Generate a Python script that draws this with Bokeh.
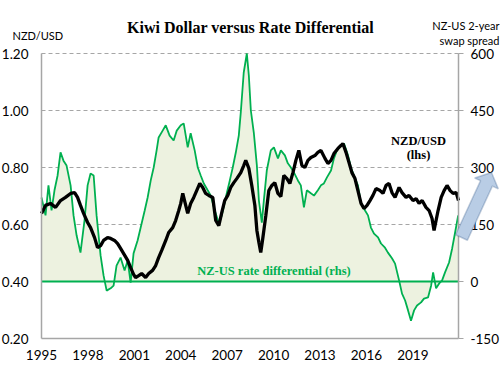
import math
from bokeh.plotting import figure
from bokeh.models import Range1d, LinearAxis, FixedTicker, Label, PolyAnnotation, NumeralTickFormatter
from bokeh.embed import file_html
from bokeh.resources import INLINE

# ---------------- data ----------------
green_years = [1995.00, 1995.26, 1995.45, 1995.65, 1995.84, 1996.04, 1996.23, 1996.42, 1996.62, 1996.88,
               1997.07, 1997.27, 1997.52, 1997.78, 1997.98, 1998.17, 1998.37, 1998.56, 1998.82, 1999.01,
               1999.21, 1999.47, 1999.66, 1999.85, 2000.11, 2000.37, 2000.57, 2000.76, 2000.95, 2001.21,
               2001.41, 2001.67, 2001.86, 2002.06, 2002.25, 2002.44, 2002.57, 2002.83, 2003.03, 2003.28,
               2003.54, 2003.74, 2004.00, 2004.19, 2004.45, 2004.64, 2004.90, 2005.10, 2005.29, 2005.49,
               2005.74, 2005.94, 2006.20, 2006.46, 2006.65, 2006.91, 2007.17, 2007.36, 2007.56, 2007.75,
               2007.88, 2008.07, 2008.27, 2008.40, 2008.53, 2008.72, 2008.92, 2009.05, 2009.24, 2009.37,
               2009.56, 2009.82, 2010.02, 2010.28, 2010.47, 2010.73, 2010.92, 2011.12, 2011.31, 2011.57,
               2011.76, 2011.96, 2012.15, 2012.41, 2012.61, 2012.86, 2013.06, 2013.25, 2013.45, 2013.71,
               2013.90, 2014.09, 2014.35, 2014.55, 2014.81, 2015.00, 2015.19, 2015.45, 2015.65, 2015.91,
               2016.10, 2016.29, 2016.49, 2016.75, 2016.94, 2017.20, 2017.39, 2017.65, 2017.85, 2018.11,
               2018.30, 2018.50, 2018.69, 2018.88, 2019.08, 2019.27, 2019.53, 2019.72, 2019.98, 2020.18,
               2020.31, 2020.50, 2020.70, 2020.89, 2021.08, 2021.34, 2021.54, 2021.73, 2021.93]
spread_bp = [221, 174, 253, 187, 240, 279, 340, 318, 305, 253,
             174, 121, 76, 161, 253, 284, 279, 174, 68, 16,
             -24, -18, -11, 42, 63, 29, 55, -3, 74, 108,
             142, 187, 221, 266, 300, 345, 379, 397, 411, 384,
             371, 397, 411, 416, 353, 390, 345, 300, 279, 258,
             240, 226, 187, 153, 174, 221, 266, 300, 340, 384,
             445, 550, 600, 542, 450, 392, 305, 213, 155, 213,
             292, 345, 353, 324, 345, 332, 311, 300, 287, 266,
             253, 195, 240, 232, 226, 240, 253, 258, 274, 292,
             324, 345, 358, 363, 332, 300, 279, 253, 205, 187,
             174, 142, 126, 116, 100, 89, 76, 61, 47, 3,
             -32, -50, -76, -103, -76, -63, -55, -45, -42, -11,
             24, -18, -5, 3, 24, 50, 87, 129, 174]

nzd_years = [1995.00, 1995.26, 1995.58, 1995.91, 1996.23, 1996.55, 1996.88, 1997.14, 1997.33, 1997.52,
             1997.72, 1997.98, 1998.17, 1998.43, 1998.62, 1998.82, 1999.01, 1999.27, 1999.47, 1999.72,
             1999.92, 2000.11, 2000.31, 2000.57, 2000.76, 2000.95, 2001.08, 2001.28, 2001.47, 2001.73,
             2001.93, 2002.18, 2002.38, 2002.57, 2002.77, 2003.03, 2003.22, 2003.48, 2003.67, 2003.87,
             2004.00, 2004.13, 2004.32, 2004.45, 2004.64, 2004.84, 2005.03, 2005.23, 2005.42, 2005.61,
             2005.81, 2006.07, 2006.26, 2006.46, 2006.65, 2006.84, 2007.04, 2007.23, 2007.43, 2007.62,
             2007.88, 2008.07, 2008.20, 2008.40, 2008.59, 2008.79, 2008.92, 2009.05, 2009.17, 2009.30,
             2009.50, 2009.69, 2009.89, 2010.08, 2010.28, 2010.47, 2010.66, 2010.86, 2011.05, 2011.25,
             2011.44, 2011.63, 2011.83, 2012.02, 2012.22, 2012.41, 2012.67, 2012.86, 2013.06, 2013.32,
             2013.51, 2013.71, 2013.90, 2014.16, 2014.35, 2014.48, 2014.68, 2014.87, 2015.06, 2015.26,
             2015.45, 2015.65, 2015.84, 2016.04, 2016.23, 2016.42, 2016.62, 2016.88, 2017.07, 2017.27,
             2017.46, 2017.65, 2017.85, 2018.11, 2018.30, 2018.56, 2018.75, 2019.01, 2019.21, 2019.40,
             2019.60, 2019.85, 2020.05, 2020.24, 2020.37, 2020.50, 2020.63, 2020.83, 2021.02, 2021.21,
             2021.41, 2021.60, 2021.80, 2021.95]
nzd_usd = [0.639, 0.667, 0.674, 0.660, 0.684, 0.695, 0.709, 0.712, 0.695, 0.667,
           0.639, 0.607, 0.589, 0.554, 0.519, 0.526, 0.544, 0.554, 0.551, 0.544,
           0.533, 0.516, 0.498, 0.474, 0.449, 0.425, 0.414, 0.421, 0.428, 0.414,
           0.428, 0.439, 0.456, 0.484, 0.509, 0.544, 0.572, 0.589, 0.614, 0.649,
           0.674, 0.709, 0.667, 0.639, 0.674, 0.695, 0.719, 0.744, 0.730, 0.709,
           0.702, 0.695, 0.614, 0.596, 0.642, 0.684, 0.702, 0.730, 0.747, 0.761,
           0.782, 0.807, 0.825, 0.797, 0.737, 0.667, 0.579, 0.537, 0.502, 0.551,
           0.632, 0.719, 0.737, 0.747, 0.709, 0.698, 0.772, 0.761, 0.744, 0.782,
           0.825, 0.860, 0.807, 0.800, 0.825, 0.835, 0.842, 0.853, 0.860, 0.832,
           0.814, 0.825, 0.849, 0.867, 0.877, 0.884, 0.853, 0.818, 0.782, 0.761,
           0.719, 0.674, 0.656, 0.667, 0.684, 0.702, 0.726, 0.719, 0.709, 0.737,
           0.744, 0.712, 0.695, 0.730, 0.712, 0.695, 0.702, 0.684, 0.691, 0.674,
           0.684, 0.660, 0.649, 0.621, 0.579, 0.614, 0.649, 0.695, 0.719, 0.737,
           0.719, 0.709, 0.712, 0.684]

year_ticks = [1995, 1998, 2001, 2004, 2007, 2010, 2013, 2016, 2019]
lhs_ticks = [0.2, 0.4, 0.6, 0.8, 1.0, 1.2]
rhs_ticks = [-150, 0, 150, 300, 450, 600]
grid_levels = [0.6, 0.8, 1.0, 1.2]

title_text = "Kiwi Dollar versus Rate Differential"

# ---------------- layout helpers ----------------
W, H = 500, 369
X0, X1 = 1995.0, 2021.95          # x-axis extent
Y0, Y1 = 0.2, 1.2                 # lhs extent
R0, R1 = -150.0, 600.0            # rhs extent
FL, FR, FT, FB = 41, 458, 53, 338  # axis box in canvas pixels


def fx(px):
    return X0 + (px - FL) * (X1 - X0) / (FR - FL)


def fy(py):
    return Y1 - (py - FT) * (Y1 - Y0) / (FB - FT)


def fr(py):
    return R1 - (py - FT) * (R1 - R0) / (FB - FT)


GREEN = "#00B050"
GRAY = "#A6A6A6"
TICK_FONT = "Lato"
SERIF = "Liberation Serif"

p = figure(width=W, height=H, x_range=Range1d(fx(0), fx(W)), y_range=Range1d(fy(H), fy(0)),
           output_backend="svg", toolbar_location=None, min_border=0,
           x_axis_type=None, y_axis_type=None)
p.extra_y_ranges = {"rhs": Range1d(fr(H), fr(0))}
p.outline_line_color = None
p.grid.visible = False

# dashed horizontal gridlines inside the axis box
p.segment(x0=X0, x1=X1, y0=grid_levels, y1=grid_levels, line_color=GRAY,
          line_dash="4 3", line_width=1.2)

# axes drawn at fixed locations
ly = LinearAxis(ticker=FixedTicker(ticks=lhs_ticks), formatter=NumeralTickFormatter(format="0.00"),
                fixed_location=X0, bounds=(Y0, Y1))
bx = LinearAxis(ticker=FixedTicker(ticks=year_ticks), formatter=NumeralTickFormatter(format="0"),
                fixed_location=Y0, bounds=(X0, X1))
ry = LinearAxis(y_range_name="rhs", ticker=FixedTicker(ticks=rhs_ticks),
                formatter=NumeralTickFormatter(format="0"), fixed_location=X1, bounds=(R0, R1))
for ax in (ly, bx, ry):
    ax.axis_line_color = GRAY
    ax.axis_line_width = 1.5
    ax.minor_tick_line_color = None
    ax.major_label_text_font = TICK_FONT
    ax.major_label_text_font_size = "13.5px"
    ax.major_label_text_color = "#000000"
ly.major_tick_line_color = None
ly.major_tick_out = 0
ly.major_tick_in = 0
ly.major_label_standoff = 13
bx.major_tick_line_color = None
bx.major_tick_out = 0
bx.major_tick_in = 0
bx.major_label_standoff = 11
ry.major_tick_line_color = GRAY
ry.major_tick_out = 5
ry.major_tick_in = 0
ry.major_label_standoff = 7
p.add_layout(ly, "left")
p.add_layout(bx, "below")
p.add_layout(ry, "right")

# glyphs
p.varea(x=green_years, y1=0, y2=spread_bp, y_range_name="rhs", fill_color="#EDF2E0")
p.line(green_years, spread_bp, y_range_name="rhs", line_color=GREEN, line_width=1.8)
p.segment(x0=X0, x1=X1, y0=0, y1=0, y_range_name="rhs", line_color=GREEN, line_width=2)
p.line(nzd_years, nzd_usd, line_color="black", line_width=3.3)


# texts
def add_label(text, px, py, size, font, bold=False, align="center", baseline="middle", color="#000000"):
    p.add_layout(Label(x=fx(px), y=fy(py), text=text, text_font=font, text_font_size=size,
                       text_font_style="bold" if bold else "normal", text_align=align,
                       text_baseline=baseline, text_color=color))


add_label(title_text, 250, 27, "16px", SERIF, bold=True, baseline="alphabetic")
add_label("NZD/USD", 12, 35, "11px", TICK_FONT, align="left")
add_label("NZ-US 2-year", 499, 25, "11px", TICK_FONT, align="right")
add_label("swap spread", 499, 40, "11px", TICK_FONT, align="right")
add_label("NZD/USD", 418, 140, "12.5px", SERIF, bold=True)
add_label("(lhs)", 418, 154, "12.5px", SERIF, bold=True)
add_label("NZ-US rate differential (rhs)", 273.5, 270, "12.5px", SERIF, bold=True, color=GREEN)


# block arrow: tail centre, tip, shaft half-width, head half-width, head length (canvas pixels)
def block_arrow(tail, tip, shaft_hw, head_hw, head_len):
    dx, dy = tip[0] - tail[0], tip[1] - tail[1]
    ln = math.hypot(dx, dy)
    ux, uy = dx / ln, dy / ln
    nx, ny = -uy, ux
    bx_, by_ = tip[0] - head_len * ux, tip[1] - head_len * uy
    pts = [(tail[0] - shaft_hw * nx, tail[1] - shaft_hw * ny),
           (bx_ - shaft_hw * nx, by_ - shaft_hw * ny),
           (bx_ - head_hw * nx, by_ - head_hw * ny),
           tip,
           (bx_ + head_hw * nx, by_ + head_hw * ny),
           (bx_ + shaft_hw * nx, by_ + shaft_hw * ny),
           (tail[0] + shaft_hw * nx, tail[1] + shaft_hw * ny)]
    return [fx(a) for a, b in pts], [fy(b) for a, b in pts]


axs, ays = block_arrow((461, 237), (491, 172), 6.5, 13, 12)
p.add_layout(PolyAnnotation(xs=axs, ys=ays, fill_color="#B9CDE5", fill_alpha=1.0,
                            line_color="#385D8A", line_width=1.5))

open("out.html", "w").write(file_html(p, INLINE))
